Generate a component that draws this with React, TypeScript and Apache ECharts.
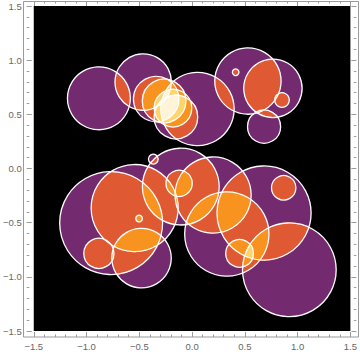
import React, { useEffect, useRef } from "react";
import * as echarts from "echarts";

// circle centres and radii (data units)
const circleX = [-0.883, -0.463, 0.051, -0.34, -0.265, -0.181, -0.153, 0.529, 0.413, 0.766, 0.852, 0.682,
  -0.367, -0.107, -0.767, -0.544, -0.502, -0.479, -0.883, -0.123, 0.199, 0.682, 0.868, 0.329, 0.45, 0.9215];
const circleY = [0.648, 0.798, 0.549, 0.641, 0.623, 0.558, 0.475, 0.807, 0.888, 0.74, 0.632, 0.386,
  0.087, -0.167, -0.504, -0.365, -0.462, -0.827, -0.7835, -0.137, -0.245, -0.411, -0.178, -0.605, -0.7835, -0.935];
const circleR = [0.294, 0.264, 0.343, 0.213, 0.204, 0.176, 0.204, 0.31, 0.031, 0.273, 0.068, 0.155,
  0.046, 0.359, 0.481, 0.407, 0.031, 0.278, 0.141, 0.123, 0.356, 0.44, 0.114, 0.394, 0.13, 0.438];

const depthColors = ["#732A6F", "#DF5A32", "#F8931F", "#FCD56E", "#FFF4D8"];
const axisMin = -1.5;
const axisMax = 1.5;
const tickStep = 0.5;

const n = circleX.length;

function insideAll(x: number, y: number, ids: number[], skip: number[]) {
  for (const j of ids) {
    if (skip.indexOf(j) >= 0) continue;
    const dx = x - circleX[j];
    const dy = y - circleY[j];
    if (dx * dx + dy * dy > circleR[j] * circleR[j] * (1 + 1e-7) + 1e-12) return false;
  }
  return true;
}

function intersectionPolygon(ids: number[]): number[][] | null {
  const pts: number[][] = [];
  const N = 360;
  for (const i of ids) {
    for (let k = 0; k < N; k++) {
      const a = (2 * Math.PI * k) / N;
      const x = circleX[i] + circleR[i] * Math.cos(a);
      const y = circleY[i] + circleR[i] * Math.sin(a);
      if (insideAll(x, y, ids, [i])) pts.push([x, y]);
    }
  }
  for (let p = 0; p < ids.length; p++) {
    for (let q = p + 1; q < ids.length; q++) {
      const i = ids[p], j = ids[q];
      const dx = circleX[j] - circleX[i], dy = circleY[j] - circleY[i];
      const d = Math.hypot(dx, dy);
      if (d === 0 || d > circleR[i] + circleR[j] || d < Math.abs(circleR[i] - circleR[j])) continue;
      const a = (circleR[i] * circleR[i] - circleR[j] * circleR[j] + d * d) / (2 * d);
      const h = Math.sqrt(Math.max(0, circleR[i] * circleR[i] - a * a));
      const mx = circleX[i] + (a * dx) / d, my = circleY[i] + (a * dy) / d;
      const c1 = [mx + (h * dy) / d, my - (h * dx) / d];
      const c2 = [mx - (h * dy) / d, my + (h * dx) / d];
      for (const c of [c1, c2]) if (insideAll(c[0], c[1], ids, [i, j])) pts.push(c);
    }
  }
  if (pts.length < 3) return null;
  let sx = 0, sy = 0;
  for (const p of pts) { sx += p[0]; sy += p[1]; }
  sx /= pts.length; sy /= pts.length;
  pts.sort((u, v) => Math.atan2(u[1] - sy, u[0] - sx) - Math.atan2(v[1] - sy, v[0] - sx));
  return pts;
}

function overlaps(i: number, j: number) {
  return Math.hypot(circleX[i] - circleX[j], circleY[i] - circleY[j]) < circleR[i] + circleR[j];
}

type Region = { depth: number; pts: number[][]; cx: number; cy: number };

function buildRegions(): Region[] {
  const regions: Region[] = [];
  const extend = (ids: number[], start: number) => {
    for (let j = start; j < n; j++) {
      if (!ids.every((i) => overlaps(i, j))) continue;
      const next = [...ids, j];
      if (next.length >= 2) {
        const poly = intersectionPolygon(next);
        if (!poly) continue;
        let cx = 0, cy = 0;
        for (const p of poly) { cx += p[0]; cy += p[1]; }
        regions.push({ depth: next.length, pts: poly, cx: cx / poly.length, cy: cy / poly.length });
      }
      extend(next, j + 1);
    }
  };
  extend([], 0);
  regions.sort((a, b) => a.depth - b.depth);
  return regions;
}

const fmt = (v: number) => (v < 0 ? "\u2212" : "") + Math.abs(v).toFixed(1);

export default function App() {
  const ref = useRef<HTMLDivElement>(null);
  useEffect(() => {
    if (!ref.current) return;
    const chart = echarts.init(ref.current, undefined, { renderer: "svg" });
    const regions = buildRegions();
    const circleData = circleX.map((x, i) => [x, circleY[i], circleR[i]]);
    const regionData = regions.map((r, i) => [r.cx, r.cy, i]);

    const tickCommon = {
      show: true,
      inside: true,
      length: 5,
      lineStyle: { color: "#9a9a9a", width: 1 },
    };
    const minorCommon = {
      show: true,
      splitNumber: 5,
      length: 2.5,
      lineStyle: { color: "#9a9a9a", width: 1 },
    };
    const labelCommon = {
      color: "#666",
      fontSize: 9.5,
      fontFamily: "Liberation Sans",
      formatter: fmt,
    };

    const mkAxis = (pos: string, offset: number, showLabel: boolean, margin: number) => ({
      type: "value",
      position: pos,
      offset,
      min: axisMin,
      max: axisMax,
      interval: tickStep,
      axisLine: { show: false, onZero: false },
      axisTick: tickCommon,
      minorTick: minorCommon,
      splitLine: { show: false },
      minorSplitLine: { show: false },
      axisLabel: { ...labelCommon, show: showLabel, margin },
    });

    chart.setOption({
      animation: false,
      backgroundColor: "#fff",
      grid: { left: 30, right: 7, top: 6, bottom: 23, show: true, backgroundColor: "#000", borderWidth: 0 },
      xAxis: [mkAxis("bottom", 6, true, 4), mkAxis("top", 5, false, 4)],
      yAxis: [mkAxis("left", 7, true, 5), mkAxis("right", 6, false, 5)],
      graphic: [
        {
          type: "rect",
          shape: { x: 23.5, y: 1.5, width: 335, height: 335.5 },
          style: { fill: "none", stroke: "#9a9a9a", lineWidth: 1 },
          silent: true,
        },
      ],
      series: [
        {
          type: "custom",
          xAxisIndex: 0,
          yAxisIndex: 0,
          clip: true,
          z: 2,
          data: circleData,
          renderItem: (params: any, api: any) => {
            const c = api.coord([api.value(0), api.value(1)]);
            const s = api.size([api.value(2), api.value(2)]);
            return {
              type: "circle",
              shape: { cx: c[0], cy: c[1], r: (s[0] + s[1]) / 2 },
              style: { fill: depthColors[0], stroke: "none" },
            };
          },
        },
        {
          type: "custom",
          xAxisIndex: 0,
          yAxisIndex: 0,
          clip: true,
          z: 3,
          data: regionData,
          renderItem: (params: any, api: any) => {
            const reg = regions[api.value(2)];
            const pts = reg.pts.map((p) => api.coord(p));
            return {
              type: "polygon",
              shape: { points: pts },
              style: { fill: depthColors[Math.min(reg.depth, depthColors.length) - 1], stroke: "none" },
            };
          },
        },
        {
          type: "custom",
          xAxisIndex: 0,
          yAxisIndex: 0,
          clip: true,
          z: 4,
          data: circleData,
          renderItem: (params: any, api: any) => {
            const c = api.coord([api.value(0), api.value(1)]);
            const s = api.size([api.value(2), api.value(2)]);
            return {
              type: "circle",
              shape: { cx: c[0], cy: c[1], r: (s[0] + s[1]) / 2 },
              style: { fill: "none", stroke: "#fff", lineWidth: 1.3 },
            };
          },
        },
      ],
    });
    return () => chart.dispose();
  }, []);
  return <div ref={ref} style={{ position: "fixed", left: 0, top: 0, width: 360, height: 354 }} />;
}
